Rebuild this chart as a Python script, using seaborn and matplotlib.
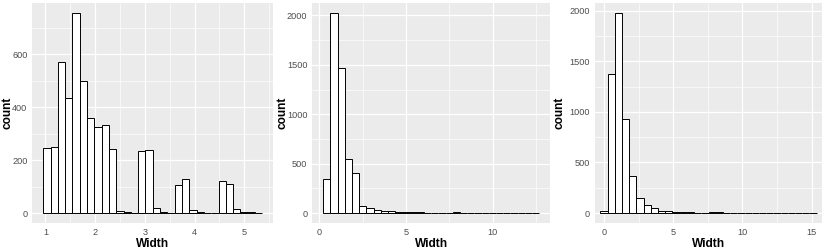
import numpy as np
import pandas as pd
import matplotlib
matplotlib.use('Agg')
import matplotlib.pyplot as plt
from matplotlib.ticker import MultipleLocator
import seaborn as sns

# bin counts (30 bins each, ggplot style)
counts_1 = [245, 248, 570, 435, 757, 498, 358, 325, 332, 243,
            8, 2, 0, 236, 240, 18, 5, 1, 105, 130,
            10, 3, 1, 0, 120, 110, 15, 2, 2, 1]
counts_2 = [345, 2025, 1470, 545, 405, 75, 50, 35, 25, 16,
            9, 8, 6, 6, 5, 5, 1, 1, 8, 2,
            2, 1, 1, 0, 1, 0, 0, 1, 0, 1]
counts_3 = [20, 1380, 1980, 930, 365, 145, 78, 45, 20, 18,
            8, 7, 6, 4, 1, 5, 5, 1, 2, 1,
            1, 1, 0, 1, 0, 0, 0, 0, 0, 1]

# min / max of the Width variable in each panel
width_min = [1.03, 0.44, 0.0]
width_max = [5.29, 12.47, 15.1]

x_major = [1, 5, 5]
y_major = [200, 500, 500]

sns.set_style('darkgrid', {'axes.facecolor': '#EBEBEB', 'grid.color': 'white'})
plt.rcParams['font.family'] = ['Liberation Sans Narrow', 'Liberation Sans', 'DejaVu Sans']

fig = plt.figure(figsize=(8.3, 2.49), dpi=100)
boxes = [(0.0389, 0.1044, 0.2904, 0.8836),
         (0.3763, 0.1044, 0.2864, 0.8836),
         (0.7169, 0.1044, 0.2735, 0.8836)]
xlims = [(0.736, 5.584), (-0.393, 13.30), (-0.65, 15.75)]
ylab_x = [-0.078, -0.10, -0.132]

for i, cnt in enumerate([counts_1, counts_2, counts_3]):
    ax = fig.add_axes(boxes[i])
    bw = (width_max[i] - width_min[i]) / 29
    edges = width_min[i] - bw / 2 + bw * np.arange(31)
    df = pd.DataFrame({'Width': (edges[:-1] + edges[1:]) / 2, 'n': cnt})
    sns.histplot(data=df, x='Width', weights='n', bins=list(edges), ax=ax,
                 color='white', alpha=1, edgecolor='black', linewidth=0.7)
    top = max(cnt)
    ax.set_ylim(-0.05 * top, 1.05 * top)
    ax.set_xlim(*xlims[i])
    ax.xaxis.set_major_locator(MultipleLocator(x_major[i]))
    ax.xaxis.set_minor_locator(MultipleLocator(x_major[i] / 2))
    ax.yaxis.set_major_locator(MultipleLocator(y_major[i]))
    ax.yaxis.set_minor_locator(MultipleLocator(y_major[i] / 2))
    ax.grid(which='major', color='white', linewidth=0.9)
    ax.grid(which='minor', color='white', linewidth=0.45)
    ax.set_axisbelow(True)
    for s in ax.spines.values():
        s.set_visible(False)
    ax.tick_params(which='major', length=2, width=0.5, color='#333333',
                   labelsize=6.6, labelcolor='#4D4D4D', pad=1.5)
    ax.tick_params(which='minor', length=0)
    ax.set_xlabel('Width', fontsize=8.6, fontweight='bold', color='black', labelpad=0.5)
    ax.set_ylabel('count', fontsize=8.6, fontweight='bold', color='black')
    ax.yaxis.set_label_coords(ylab_x[i], 0.5)

fig.savefig('out.png', dpi=100)
